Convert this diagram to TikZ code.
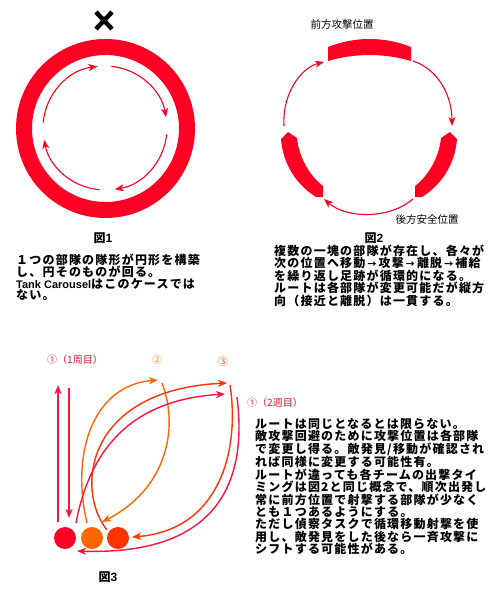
\documentclass[tikz,border=0pt]{standalone}
\usepackage{fontspec}
\usetikzlibrary{arrows.meta}
\newfontfamily\jpb{Noto Sans CJK JP}[LetterSpace=10]
\newfontfamily\jpn{Noto Sans CJK JP}
\newfontfamily\lat{Liberation Sans}
\definecolor{rd}{RGB}{255,0,34}
\definecolor{rdb}{RGB}{255,20,60}
\definecolor{org}{RGB}{255,102,0}
\definecolor{ro}{RGB}{255,51,0}
\newcommand\myarr{\makebox[13.2pt]{\fontsize{9pt}{9pt}\selectfont →}}
\begin{document}
\begin{tikzpicture}[x=1pt,y=-1pt,
  tip/.style={-{Stealth[length=9pt,width=7pt,inset=2.5pt]}},
  thinarrow/.style={line width=1.1pt, tip},
  figarrow/.style={line width=1.4pt, tip},
  bodytext/.style={align=left, anchor=base west, inner sep=0pt},
  capt/.style={font=\jpn\bfseries\fontsize{12pt}{12pt}\selectfont, inner sep=0pt},
  poslabel/.style={font=\jpn\fontsize{10.5pt}{10.5pt}\selectfont, inner sep=0pt},
  runlabel/.style={font=\jpn\fontsize{10pt}{10pt}\selectfont, inner sep=0pt},
  unit/.style={circle, minimum size=22pt, inner sep=0pt}]
\useasboundingbox[fill=white] (0,0) rectangle (499,603);

% ---------- Figure 1 ----------
\draw[line width=4.5pt] (96,12) -- (112,29) (96,29) -- (112,12);
\draw[rd, line width=16pt] (105.5,128.5) circle[radius=81.5];
\draw[rd, thinarrow] (105,128) ++(-175:62) arc[start angle=-175, end angle=-97, radius=62];
\draw[rd, thinarrow] (105,128) ++(-84:62) arc[start angle=-84, end angle=-10, radius=62];
\draw[rd, thinarrow] (105,128) ++(6:62) arc[start angle=6, end angle=81, radius=62];
\draw[rd, thinarrow] (105,128) ++(95:62) arc[start angle=95, end angle=169, radius=62];
\node[capt] (cap1) at (103,238) {図{\lat\bfseries 1}};
% anchor "base" of a multi-line node is the baseline of its last line
\node[bodytext, font=\jpb\bfseries\fontsize{12pt}{11.4pt}\selectfont] (txt1) at (16,299.7)
  {１つの部隊の隊形が円形を構築\\し、円そのものが回る。\\{\lat\bfseries\fontsize{11pt}{11pt}\selectfont Tank Carousel}はこのケースでは\\ない。};

% ---------- Figure 2 ----------
\fill[rd] (328,47) .. controls (355,36.3) and (384,36.3) .. (411,47) -- (411,61)
  .. controls (384,53) and (355,53) .. (328,61) -- cycle;
\fill[rd] (288,132) -- (281,139) .. controls (283,165) and (297,185) .. (316,197) -- (323,197)
  -- (323,186) .. controls (310,176) and (299,158) .. (297,138) -- cycle;
\fill[rd] (450,132) -- (457,139) .. controls (455,165) and (441,185) .. (422,197) -- (415,197)
  -- (415,186) .. controls (428,176) and (439,158) .. (441,138) -- cycle;
\coordinate (a1s) at (413,61);  \coordinate (a1e) at (452,126);
\coordinate (a2s) at (413,199); \coordinate (a2e) at (324,199);
\coordinate (a3s) at (284,126); \coordinate (a3e) at (324,62);
\draw[rd, thinarrow] (a1s) .. controls (440,70) and (452,98) .. (a1e);
\draw[rd, thinarrow] (a2s) .. controls (390,219) and (347,219) .. (a2e);
\draw[rd, thinarrow] (a3s) .. controls (282,95) and (300,68) .. (a3e);
\node[poslabel] (front) at (342,25) {前方攻撃位置};
\node[poslabel] (rear) at (427,220) {後方安全位置};
\node[capt] (cap2) at (374,238) {図{\lat\bfseries 2}};
\node[bodytext, font=\jpb\bfseries\fontsize{12pt}{11.5pt}\selectfont] (txt2) at (274,305.5)
  {複数の一塊の部隊が存在し、各々が\\次の位置へ移動\myarr 攻撃\myarr 離脱\myarr 補給\\を繰り返し足跡が循環的になる。\\ルートは各部隊が変更可能だが縦方\\向（接近と離脱）は一貫する。};

% ---------- Figure 3 ----------
\node[unit, fill=rd] (c1) at (65,538) {};
\node[unit, fill=org] (c2) at (92,538) {};
\node[unit, fill=ro] (c3) at (118,538) {};
\node[runlabel, text=rdb] (l1) at (75,360) {①（1周目）};
\node[runlabel, text=org!85!white] (l2) at (157,360) {②};
\node[runlabel, text=ro] (l3) at (223,362) {③};
\node[runlabel, text=rdb] (l4) at (275,403) {①（2週目）};
\coordinate (u1) at (58,522);   \coordinate (u2) at (58,385);
\coordinate (d1) at (69,388);   \coordinate (d2) at (69,518);
\coordinate (o1) at (87,523);   \coordinate (o2) at (158,380);
\coordinate (o3) at (162,383);  \coordinate (o4) at (102,522);
\coordinate (r1) at (107,530);  \coordinate (r2) at (227,383);
\coordinate (r3) at (230,385);  \coordinate (r4) at (132,537);
\coordinate (s1) at (76,523);   \coordinate (s2) at (225,394);
\coordinate (s3) at (237,397);  \coordinate (s4) at (77,551);
\draw[rdb, line width=1.8pt, tip] (u1) -- (u2);
\draw[rdb, figarrow] (d1) -- (d2);
\draw[org, figarrow] (o1) .. controls (70,450) and (95,385) .. (o2);
\draw[org, figarrow] (o3) .. controls (180,430) and (165,490) .. (o4);
\draw[ro, figarrow] (r1) .. controls (75,490) and (85,390) .. (r2);
\draw[ro, figarrow] (r3) .. controls (240,450) and (220,530) .. (r4);
\draw[rdb, figarrow] (s1) .. controls (90,450) and (130,400) .. (s2);
\draw[rdb, figarrow] (s3) .. controls (250,500) and (200,555) .. (s4);
\node[capt] (cap3) at (108,577) {図{\lat\bfseries 3}};
\node[bodytext, font=\jpb\bfseries\fontsize{12pt}{12.43pt}\selectfont] (txt3) at (255,553.8)
  {ルートは同じとなるとは限らない。\\敵攻撃回避のために攻撃位置は各部隊\\で変更し得る。敵発見/移動が確認され\\れば同様に変更する可能性有。\\ルートが違っても各チームの出撃タイ\\ミングは図2と同じ概念で、順次出発し\\常に前方位置で射撃する部隊が少なく\\とも１つあるようにする。\\ただし偵察タスクで循環移動射撃を使\\用し、敵発見をした後なら一斉攻撃に\\シフトする可能性がある。};
\end{tikzpicture}
\end{document}
